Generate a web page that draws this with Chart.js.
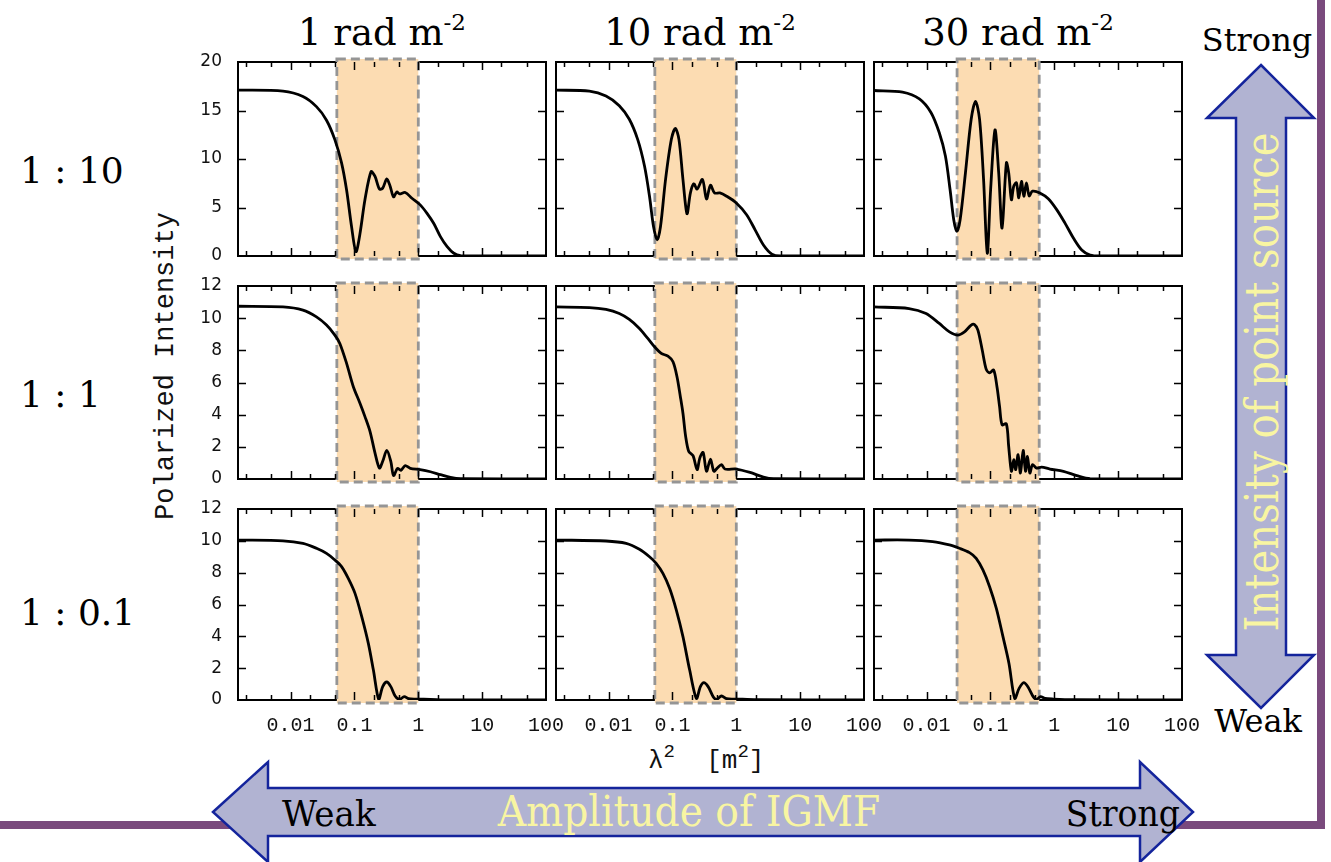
<!DOCTYPE html>
<html>
<head>
<meta charset="utf-8">
<script src="https://cdn.jsdelivr.net/npm/chart.js@4.4.1/dist/chart.umd.min.js"></script>
<style>
  html, body { margin: 0; padding: 0; background: #fff; }
  #page { position: relative; width: 1331px; height: 862px; overflow: hidden; background: #fff; }
  #page canvas { position: absolute; }
  #deco { position: absolute; left: 0; top: 0; }
</style>
</head>
<body>
<div id="page">
<svg id="deco" width="1331" height="862" xmlns="http://www.w3.org/2000/svg">
  <!-- slide border -->
  <rect x="1317" y="0" width="8" height="829" fill="#7a4a7d"/>
  <rect x="0" y="821" width="1325" height="8" fill="#7a4a7d"/>
  <!-- source intensity arrow -->
  <polygon points="1261,65 1314,118 1286,118 1286,655 1314,655 1261,708 1207,655 1236,655 1236,118 1207,118"
           fill="#b1b3d2" stroke="#14249c" stroke-width="2.5" stroke-linejoin="miter"/>
  <!-- IGMF amplitude arrow -->
  <polygon points="213,812 268,762 268,788 1140,788 1140,762 1193,812 1140,862 1140,836 268,836 268,862"
           fill="#b1b3d2" stroke="#14249c" stroke-width="2.5" stroke-linejoin="miter"/>
  <g id="labels"></g>
</svg>
</div>
<script>
// observed polarized intensity vs lambda^2, rows = source:IGMF ratio, columns = RM
let rmLabels = ['1', '10', '30'];
let ratioLabels = ['1 : 10', '1 : 1', '1 : 0.1'];
let xTickVals = [0.01, 0.1, 1, 10, 100];
let xMinorMantissa = [2, 5];
let yMax = [20, 12, 12];
let yStep = [5, 2, 2];
let bandLo = [0.053, 0.053, 0.03];
let bandHi = [1, 1, 0.58];

// 1 : 10
let lam2_a1 = [0.0015, 0.0076, 0.0156, 0.0254, 0.0365, 0.0493, 0.0628, 0.0753, 0.0902, 0.1056, 0.122, 0.146, 0.182, 0.21, 0.246, 0.277, 0.321, 0.362, 0.409, 0.462, 0.508, 0.624, 0.795, 1.07, 1.37, 1.74, 2.22, 2.83, 3.6, 4.6, 7.4, 100];
let pi_a1 = [17.1, 17.0, 16.45, 15.4, 14.0, 12.0, 9.6, 6.8, 3.0, 0.45, 2.3, 5.8, 8.7, 8.2, 6.9, 7.0, 7.95, 7.2, 6.1, 6.6, 6.4, 6.55, 5.95, 5.27, 4.4, 3.37, 2.0, 0.96, 0.28, 0.03, 0, 0];
let lam2_a2 = [0.0015, 0.005, 0.0091, 0.0147, 0.0211, 0.0286, 0.0365, 0.0437, 0.0505, 0.0577, 0.065, 0.078, 0.096, 0.111, 0.1265, 0.146, 0.169, 0.191, 0.216, 0.243, 0.295, 0.341, 0.394, 0.456, 0.553, 0.705, 1.0, 1.45, 1.97, 2.66, 3.6, 4.87, 100];
let pi_a2 = [17.1, 17.0, 16.5, 15.5, 14.1, 12.0, 9.27, 6.16, 3.04, 1.66, 3.04, 7.9, 12.0, 13.15, 12.0, 7.9, 4.36, 6.5, 7.44, 6.9, 7.9, 5.88, 7.3, 6.5, 6.5, 6.16, 5.47, 4.26, 2.7, 1.14, 0.2, 0, 0];
let lam2_a3 = [0.0015, 0.0042, 0.0077, 0.0117, 0.0158, 0.0197, 0.0233, 0.0266, 0.0297, 0.0335, 0.0406, 0.0499, 0.0584, 0.0675, 0.078, 0.0891, 0.1006, 0.1178, 0.1346, 0.152, 0.1776, 0.193, 0.213, 0.2317, 0.255, 0.278, 0.306, 0.333, 0.366, 0.404, 0.456, 0.594, 0.805, 1.09, 1.47, 2.0, 2.69, 3.64, 5.2, 100];
let pi_a3 = [17.06, 16.9, 16.2, 14.8, 12.7, 10.3, 6.85, 3.74, 2.53, 3.74, 8.58, 14.1, 15.95, 14.1, 7.9, 0.28, 6.85, 13.0, 8.58, 2.87, 9.6, 8.58, 5.8, 7.2, 7.54, 6.0, 7.7, 6.16, 7.54, 6.2, 6.68, 6.5, 5.9, 4.78, 3.39, 1.83, 0.62, 0.1, 0, 0];

// 1 : 1
let lam2_b1 = [0.0015, 0.0076, 0.0156, 0.0254, 0.0365, 0.0493, 0.059, 0.0753, 0.096, 0.122, 0.146, 0.1755, 0.21, 0.246, 0.277, 0.321, 0.371, 0.409, 0.473, 0.533, 0.624, 0.748, 1.07, 1.55, 2.22, 3.19, 4.6, 100];
let pi_b1 = [10.74, 10.7, 10.5, 10.08, 9.57, 8.95, 8.43, 7.19, 5.74, 4.71, 3.88, 2.95, 1.61, 0.68, 1.1, 1.78, 1.1, 0.21, 0.66, 0.54, 0.83, 0.66, 0.58, 0.45, 0.27, 0.1, 0.02, 0];
let lam2_b2 = [0.0015, 0.005, 0.0091, 0.0147, 0.0211, 0.0304, 0.0411, 0.0524, 0.0667, 0.085, 0.102, 0.1178, 0.133, 0.146, 0.161, 0.18, 0.21, 0.243, 0.268, 0.302, 0.341, 0.394, 0.445, 0.502, 0.587, 0.663, 1.0, 1.64, 2.66, 3.83, 100];
let pi_b2 = [10.7, 10.66, 10.54, 10.29, 9.92, 9.36, 8.74, 8.22, 7.81, 7.64, 7.29, 6.36, 5.12, 4.09, 2.64, 1.71, 1.45, 0.58, 1.3, 1.65, 0.48, 1.24, 0.48, 0.68, 0.89, 0.62, 0.62, 0.41, 0.12, 0.02, 0];
let lam2_b3 = [0.0015, 0.0053, 0.0098, 0.0158, 0.0228, 0.0308, 0.0392, 0.0499, 0.0563, 0.0636, 0.0743, 0.0859, 0.097, 0.112, 0.1265, 0.139, 0.152, 0.1776, 0.193, 0.213, 0.2317, 0.249, 0.271, 0.295, 0.325, 0.354, 0.38, 0.414, 0.456, 0.527, 0.632, 0.855, 1.39, 2.25, 3.64, 100];
let pi_b3 = [10.7, 10.6, 10.29, 9.67, 9.15, 8.95, 9.15, 9.57, 9.6, 9.26, 8.02, 6.82, 6.6, 6.78, 5.74, 4.5, 3.37, 3.43, 2.02, 0.48, 1.2, 0.58, 1.51, 0.37, 1.78, 0.48, 1.4, 0.37, 0.89, 0.68, 0.74, 0.62, 0.48, 0.21, 0.02, 0];

// 1 : 0.1
let lam2_c1 = [0.0015, 0.0076, 0.0156, 0.0254, 0.0365, 0.0493, 0.0628, 0.08, 0.102, 0.13, 0.165, 0.198, 0.24, 0.277, 0.321, 0.371, 0.434, 0.508, 0.602, 0.705, 0.953, 1.55, 2.83, 100];
let pi_c1 = [10.05, 10.0, 9.84, 9.53, 9.21, 8.8, 8.38, 7.64, 6.7, 5.24, 3.56, 1.88, 0.04, 0.84, 1.13, 0.84, 0.25, 0.04, 0.21, 0.08, 0.06, 0.04, 0, 0];
let lam2_c2 = [0.0015, 0.0091, 0.0188, 0.0304, 0.0437, 0.0556, 0.0709, 0.0902, 0.115, 0.146, 0.186, 0.237, 0.274, 0.31, 0.362, 0.434, 0.49, 0.587, 0.705, 1.0, 2.09, 100];
let pi_c2 = [10.05, 9.99, 9.84, 9.47, 9.0, 8.59, 7.96, 7.02, 5.65, 3.98, 1.88, 0.1, 0.84, 1.09, 0.84, 0.21, 0.04, 0.25, 0.08, 0.06, 0.02, 0];
let lam2_c3 = [0.0015, 0.0053, 0.0124, 0.0228, 0.0327, 0.047, 0.0598, 0.0762, 0.097, 0.1236, 0.157, 0.195, 0.24, 0.281, 0.333, 0.39, 0.467, 0.527, 0.61, 0.713, 0.964, 2.0, 100];
let pi_c3 = [10.05, 10.05, 9.95, 9.74, 9.53, 9.26, 8.9, 8.17, 7.12, 5.76, 3.98, 2.3, 0.1, 0.73, 1.09, 0.8, 0.21, 0.04, 0.21, 0.1, 0.06, 0.02, 0];

let curves = [
  [[lam2_a1, pi_a1], [lam2_a2, pi_a2], [lam2_a3, pi_a3]],
  [[lam2_b1, pi_b1], [lam2_b2, pi_b2], [lam2_b3, pi_b3]],
  [[lam2_c1, pi_c1], [lam2_c2, pi_c2], [lam2_c3, pi_c3]]
];

// panel geometry
const X_MIN = 0.0015, X_MAX = 100;
const colLeft = [238, 556, 874];
const plotW = 308;
const rowTop = [62, 286, 509];
const rowH = [194, 193, 191];
const PAD_L = 70, PAD_R = 30, PAD_T = 12, PAD_B = 45;

// minor ticks at 2 and 5 of every decade inside the range
let minorTicks = [];
for (let e = -3; e <= 1; e++) {
  xMinorMantissa.forEach(m => {
    let v = m * Math.pow(10, e);
    if (v > X_MIN && v < X_MAX) minorTicks.push(v);
  });
}

// frame, observing band and inward ticks
const panelFrame = {
  id: 'panelFrame',
  beforeDatasetsDraw(chart, args, opts) {
    const ctx = chart.ctx;
    const a = chart.chartArea;
    const x = chart.scales.x, y = chart.scales.y;
    ctx.save();
    ctx.strokeStyle = '#000';
    ctx.lineWidth = 2;
    ctx.strokeRect(a.left, a.top, a.right - a.left, a.bottom - a.top);

    let bx0 = x.getPixelForValue(opts.lo);
    let bx1 = x.getPixelForValue(opts.hi);
    ctx.fillStyle = '#fcdcb2';
    ctx.fillRect(bx0, a.top - 3, bx1 - bx0, a.bottom - a.top + 6);
    ctx.setLineDash([9, 5]);
    ctx.strokeStyle = '#959595';
    ctx.lineWidth = 2.8;
    ctx.strokeRect(bx0, a.top - 3, bx1 - bx0, a.bottom - a.top + 6);
    ctx.setLineDash([]);

    ctx.strokeStyle = '#000';
    ctx.lineWidth = 1.5;
    ctx.beginPath();
    y.ticks.forEach(t => {
      if (t.value <= 0 || t.value >= y.max) return;
      let py = Math.round(y.getPixelForValue(t.value)) + 0.5;
      ctx.moveTo(a.left, py); ctx.lineTo(a.left + 8, py);
      ctx.moveTo(a.right, py); ctx.lineTo(a.right - 8, py);
    });
    xTickVals.forEach(v => {
      if (v >= X_MAX) return;
      let px = Math.round(x.getPixelForValue(v)) + 0.5;
      ctx.moveTo(px, a.top); ctx.lineTo(px, a.top + 8);
      ctx.moveTo(px, a.bottom); ctx.lineTo(px, a.bottom - 8);
    });
    minorTicks.forEach(v => {
      let px = Math.round(x.getPixelForValue(v)) + 0.5;
      ctx.moveTo(px, a.top); ctx.lineTo(px, a.top + 5);
      ctx.moveTo(px, a.bottom); ctx.lineTo(px, a.bottom - 5);
    });
    ctx.stroke();
    ctx.restore();
  }
};

let page = document.getElementById('page');

for (let r = 0; r < 3; r++) {
  for (let c = 0; c < 3; c++) {
    let cv = document.createElement('canvas');
    cv.width = plotW + PAD_L + PAD_R;
    cv.height = rowH[r] + PAD_T + PAD_B;
    cv.style.left = (colLeft[c] - PAD_L) + 'px';
    cv.style.top = (rowTop[r] - PAD_T) + 'px';
    page.appendChild(cv);

    let xs = curves[r][c][0];
    let ys = curves[r][c][1];

    new Chart(cv, {
      type: 'line',
      data: {
        datasets: [{
          data: xs.map((v, i) => ({ x: v, y: ys[i] })),
          borderColor: '#000',
          borderWidth: 2.8,
          pointRadius: 0,
          tension: 0.3,
          fill: false
        }]
      },
      options: {
        responsive: false,
        animation: false,
        events: [],
        layout: { padding: { top: PAD_T, right: PAD_R, left: 0, bottom: 0 } },
        plugins: {
          legend: { display: false },
          tooltip: { enabled: false },
          panelFrame: { lo: bandLo[c], hi: bandHi[c] }
        },
        scales: {
          x: {
            type: 'logarithmic',
            min: X_MIN,
            max: X_MAX,
            grid: { display: false, drawTicks: false },
            border: { display: false },
            afterBuildTicks: s => { s.ticks = xTickVals.map(v => ({ value: v })); },
            afterFit: s => { s.height = PAD_B; s.paddingLeft = 0; s.paddingRight = 0; },
            ticks: {
              display: r === 2,
              autoSkip: false,
              maxRotation: 0,
              padding: 14,
              color: '#111',
              font: { family: 'Liberation Mono', size: 20 },
              callback: v => String(v)
            }
          },
          y: {
            type: 'linear',
            min: 0,
            max: yMax[r],
            grid: { display: false, drawTicks: false },
            border: { display: false },
            afterFit: s => { s.width = PAD_L; s.paddingTop = 0; s.paddingBottom = 0; },
            ticks: {
              display: c === 0,
              stepSize: yStep[r],
              padding: 16,
              color: '#111',
              font: { family: 'DejaVu Sans', size: 17 }
            }
          }
        }
      },
      plugins: [panelFrame]
    });
  }
}

// titles and annotations
const SVGNS = 'http://www.w3.org/2000/svg';
let g = document.getElementById('labels');
function addText(str, x, y, attrs) {
  let t = document.createElementNS(SVGNS, 'text');
  t.setAttribute('x', x);
  t.setAttribute('y', y);
  t.setAttributeNS('http://www.w3.org/XML/1998/namespace', 'xml:space', 'preserve');
  for (let k in attrs) t.setAttribute(k, attrs[k]);
  t.textContent = str;
  g.appendChild(t);
  return t;
}
function addSpan(parent, str, dy, size) {
  let s = document.createElementNS(SVGNS, 'tspan');
  s.setAttribute('dy', dy);
  s.setAttribute('font-size', size);
  s.textContent = str;
  parent.appendChild(s);
}

const serif = "'DejaVu Serif', serif";
const mono = "'Liberation Mono', monospace";
for (let c = 0; c < 3; c++) {
  let t = addText(rmLabels[c] + ' rad m', colLeft[c] + plotW / 2 - 10, 45,
    { 'font-family': serif, 'font-size': 37, 'text-anchor': 'middle', fill: '#000' });
  addSpan(t, '-2', -15, 23);
}
let rowBase = [183, 407, 625];
for (let r = 0; r < 3; r++) {
  addText(ratioLabels[r], 20, rowBase[r], { 'font-family': serif, 'font-size': 36, fill: '#000' });
}

addText('Polarized Intensity', 0, 0, {
  'font-family': mono, 'font-size': 27, 'text-anchor': 'middle',
  transform: 'translate(173,366) rotate(-90)', fill: '#111'
});

let xt = addText('\u03bb', 648, 768, { 'font-family': mono, 'font-size': 26, fill: '#111' });
addSpan(xt, '2', -11, 19);
addSpan(xt, '  [m', 11, 26);
addSpan(xt, '2', -11, 19);
addSpan(xt, ']', 11, 26);

addText('Strong', 1257, 51, { 'font-family': serif, 'font-size': 32, 'text-anchor': 'middle', fill: '#000' });
addText('Weak', 1258, 732, { 'font-family': serif, 'font-size': 32, 'text-anchor': 'middle', fill: '#000' });
addText('Intensity of point source', 0, 0, {
  'font-family': serif, 'font-size': 46, 'text-anchor': 'middle', 'dominant-baseline': 'central',
  transform: 'translate(1262,382) rotate(-90) scale(0.875,1)', fill: '#f8f5a2'
});

addText('Weak', 282, 826, { 'font-family': serif, 'font-size': 36, fill: '#000', transform: 'translate(282,0) scale(0.95,1) translate(-282,0)' });
addText('Amplitude of IGMF', 689, 826, { 'font-family': serif, 'font-size': 42, 'text-anchor': 'middle', fill: '#f8f5a2', transform: 'translate(689,0) scale(0.935,1) translate(-689,0)' });
addText('Strong', 1180, 826, { 'font-family': serif, 'font-size': 36, 'text-anchor': 'end', fill: '#000', transform: 'translate(1180,0) scale(0.92,1) translate(-1180,0)' });
</script>
</body>
</html>
